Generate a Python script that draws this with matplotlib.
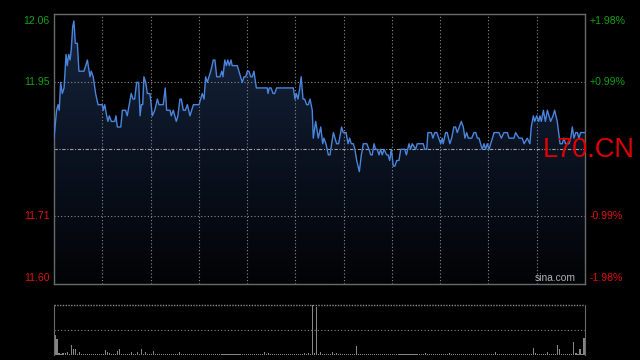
import matplotlib
matplotlib.use("Agg")
import matplotlib.pyplot as plt
import numpy as np
from matplotlib.colors import LinearSegmentedColormap

plt.rcParams['font.family'] = ['Liberation Sans', 'DejaVu Sans']

# ---- data ----
prev_close = 11.83
minutes = [0, 1.3, 2.0, 2.6, 3.3, 4.1, 5.0, 6.0, 6.6, 7.3, 8.0, 8.6, 9.3, 9.9, 10.6, 11.6,
           12.4, 14.9, 16.6, 17.9, 18.5, 19.5, 20.7, 21.9, 24.0, 24.5, 25.2, 26.2, 26.8,
           27.5, 28.5, 30.2, 30.8, 31.5, 33.2, 34.0, 35.6, 36.4, 38.4, 39.3, 40.1, 41.1,
           42.1, 42.8, 43.4, 44.1, 44.7, 45.6, 46.4, 47.7, 48.9, 50.1, 51.4, 52.2, 54.3,
           55.3, 56.0, 57.7, 58.3, 59.3, 60.8, 61.6, 62.6, 63.3, 64.3, 65.3, 66.3, 67.6,
           69.3, 72.1, 72.9, 73.7, 74.6, 75.4, 76.2, 77.9, 79.2, 80.0, 80.9, 82.5, 83.4,
           84.0, 84.9, 85.7, 86.4, 87.2, 88.0, 88.6, 91.1, 93.6, 94.5, 95.3, 96.1, 96.9,
           97.8, 98.6, 99.4, 100.6, 106.0, 106.4, 107.0, 107.9, 108.9, 109.7, 110.7, 119.0,
           119.8, 120.5, 121.3, 122.2, 122.9, 123.8, 124.6, 125.6, 126.4, 127.3, 128.4,
           128.9, 130.1, 131.4, 132.6, 133.6, 134.2, 135.2, 136.4, 137.2, 138.9, 140.5,
           141.5, 143.0, 143.8, 145.2, 146.2, 147.0, 147.8, 148.8, 149.6, 150.5, 151.8,
           152.8, 153.8, 155.5, 156.6, 157.5, 158.2, 159.1, 159.9, 160.7, 161.6, 162.4,
           163.2, 164.1, 165.4, 166.1, 166.9, 167.7, 168.7, 169.5, 170.4, 171.5, 172.4,
           174.4, 175.2, 176.5, 177.3, 178.1, 179.8, 180.6, 183.6, 184.3, 185.3, 185.9,
           187.6, 188.4, 189.3, 190.3, 191.3, 192.3, 193.0, 193.5, 194.7, 195.5, 196.8,
           197.7, 198.8, 199.7, 200.5, 201.5, 202.5, 203.5, 204.3, 205.2, 206.0, 207.7,
           208.8, 209.7, 210.5, 211.3, 212.1, 212.9, 213.8, 214.6, 215.4, 216.3, 217.1,
           218.8, 221.2, 222.4, 223.7, 225.4, 226.2, 228.7, 229.5, 231.2, 232.8, 233.7,
           235.3, 236.6, 237.3, 238.3, 239.0, 240.0, 241.0, 241.6, 242.3, 243.3, 244.3,
           245.3, 246.1, 246.9, 248.1, 248.9, 250.2, 251.6, 252.7, 253.5, 254.3, 256.0,
           256.9, 257.7, 258.5, 259.4, 260.2, 261.0, 261.8, 264.0]
prices = [11.85, 11.90, 11.91, 11.90, 11.95, 11.93, 11.94, 12.00, 11.98, 12.00, 11.99, 12.01,
          12.05, 12.06, 12.02, 12.02, 11.97, 11.97, 11.99, 11.96, 11.97, 11.96, 11.93, 11.91,
          11.91, 11.90, 11.91, 11.89, 11.88, 11.89, 11.88, 11.88, 11.89, 11.87, 11.87, 11.90,
          11.90, 11.89, 11.93, 11.92, 11.92, 11.95, 11.95, 11.89, 11.91, 11.91, 11.96, 11.95,
          11.93, 11.93, 11.89, 11.90, 11.92, 11.91, 11.91, 11.94, 11.90, 11.90, 11.89, 11.90,
          11.88, 11.89, 11.92, 11.92, 11.90, 11.90, 11.91, 11.89, 11.91, 11.91, 11.92, 11.93,
          11.92, 11.96, 11.95, 11.97, 11.99, 11.99, 11.96, 11.96, 11.97, 11.96, 11.99, 11.98,
          11.99, 11.98, 11.99, 11.98, 11.98, 11.95, 11.96, 11.96, 11.97, 11.97, 11.96, 11.96,
          11.97, 11.94, 11.94, 11.93, 11.94, 11.94, 11.93, 11.93, 11.94, 11.94, 11.92, 11.93,
          11.92, 11.94, 11.96, 11.92, 11.92, 11.91, 11.91, 11.92, 11.90, 11.85, 11.88, 11.85,
          11.87, 11.84, 11.85, 11.84, 11.82, 11.82, 11.86, 11.84, 11.84, 11.87, 11.86, 11.86,
          11.84, 11.85, 11.84, 11.84, 11.83, 11.81, 11.79, 11.82, 11.84, 11.84, 11.83, 11.82,
          11.82, 11.84, 11.83, 11.83, 11.82, 11.83, 11.82, 11.83, 11.82, 11.82, 11.81, 11.83,
          11.80, 11.80, 11.81, 11.81, 11.83, 11.83, 11.82, 11.84, 11.83, 11.84, 11.83, 11.84,
          11.84, 11.83, 11.83, 11.86, 11.86, 11.85, 11.86, 11.86, 11.85, 11.84, 11.85, 11.84,
          11.86, 11.86, 11.84, 11.85, 11.87, 11.87, 11.86, 11.87, 11.88, 11.87, 11.85, 11.86,
          11.85, 11.85, 11.86, 11.86, 11.85, 11.85, 11.84, 11.83, 11.84, 11.83, 11.84, 11.83,
          11.84, 11.86, 11.86, 11.85, 11.86, 11.86, 11.85, 11.85, 11.86, 11.85, 11.85, 11.84,
          11.85, 11.84, 11.87, 11.89, 11.88, 11.89, 11.88, 11.89, 11.88, 11.90, 11.88, 11.90,
          11.89, 11.88, 11.89, 11.90, 11.88, 11.84, 11.84, 11.85, 11.84, 11.84, 11.85, 11.87,
          11.85, 11.86, 11.86, 11.85, 11.86, 11.86]

volumes = [400, 320, 46, 24, 46, 46, 66, 28, 200, 114, 114, 30,
           66, 24, 30, 20, 26, 22, 30, 24, 20, 28, 22, 26,
           30, 100, 66, 46, 24, 30, 26, 80, 120, 30, 22, 26,
           24, 28, 66, 22, 30, 66, 24, 114, 28, 66, 24, 30,
           22, 80, 26, 24, 30, 22, 28, 24, 26, 20, 30, 24,
           22, 26, 56, 24, 20, 28, 24, 26, 22, 30, 24, 20,
           26, 22, 24, 28, 20, 26, 24, 22, 30, 24, 26, 20,
           24, 28, 22, 26, 24, 20, 30, 22, 26, 24, 28, 22,
           24, 26, 20, 28, 24, 22, 30, 26, 56, 24, 40, 22,
           26, 24, 20, 28, 22, 26, 24, 30, 22, 24, 26, 20,
           28, 24, 30, 22, 40, 26, 46, 30, 994, 40, 966, 24,
           60, 30, 26, 22, 24, 28, 56, 24, 40, 26, 22, 30,
           24, 26, 22, 28, 24, 30, 180, 26, 22, 24, 28, 22,
           26, 24, 20, 28, 22, 26, 24, 20, 30, 24, 26, 22,
           28, 24, 26, 22, 30, 24, 20, 26, 28, 22, 24, 26,
           22, 30, 24, 26, 40, 22, 28, 24, 26, 22, 30, 24,
           26, 22, 28, 24, 40, 26, 22, 30, 24, 26, 22, 28,
           24, 26, 22, 30, 24, 26, 20, 28, 22, 26, 24, 30,
           22, 26, 24, 66, 28, 22, 26, 24, 30, 22, 26, 24,
           28, 22, 26, 30, 24, 22, 28, 26, 24, 22, 134, 46,
           26, 24, 28, 22, 30, 56, 24, 26, 22, 28, 200, 114,
           26, 30, 24, 28, 22, 30, 260, 40, 26, 120, 30, 346]

left_labels = ["12.06", "11.95", "11.71", "11.60"]
left_values = [12.06, 11.95, 11.71, 11.60]
right_labels = ["+1.98%", "+0.99%", "-0.99%", "-1.98%"]
symbol = "L70.CN"
watermark = "sina.com"

# ---- styling ----
GREEN = '#12a012'
RED = '#e01010'
GRID = '#8a8a8a'
SPINE = '#6a6a6a'
LINE = '#4a85dd'
session_len = 264
ylo, yhi = 11.5886, 12.0725

fig = plt.figure(figsize=(6.4, 3.6), dpi=100, facecolor='black')
ax = fig.add_axes([54/640, 1-284/360, 531/640, 270/360])
ax.set_facecolor('black')
ax.set_xlim(0, session_len)
ax.set_ylim(ylo, yhi)

# gradient fill under line
poly = ax.fill_between(minutes, prices, ylo, facecolor='none', edgecolor='none')
cmap = LinearSegmentedColormap.from_list('g', ['#020305', '#0b1322', '#17263f'])
grad = np.linspace(0, 1, 256).reshape(-1, 1)
im = ax.imshow(grad, extent=[0, session_len, ylo, yhi], origin='lower',
               aspect='auto', cmap=cmap, zorder=1)
path = poly.get_paths()[0]
im.set_clip_path(path, transform=ax.transData)

# grid
for k in range(1, 11):
    ax.axvline(24*k, color=GRID, lw=0.8, ls=(0, (1, 2)), zorder=2)
for v in [11.95, 11.71]:
    ax.axhline(v, color=GRID, lw=0.8, ls=(0, (1, 2)), zorder=2)
ax.axhline(prev_close, color='#a0a0a0', lw=0.8, ls=(0, (3, 1.5, 1, 1.5)), zorder=2)

ax.plot(minutes, prices, color=LINE, lw=1.0, zorder=3)

for s in ax.spines.values():
    s.set_color(SPINE)
    s.set_linewidth(1.0)
ax.set_xticks([])
ax.set_yticks([])

colors = [GREEN, GREEN, RED, RED]
for lab, val, rl, c in zip(left_labels, left_values, right_labels, colors):
    ax.text(-0.008, val, lab, transform=ax.get_yaxis_transform(), ha='right',
            va='center', color=c, fontsize=7.6)
    ax.text(1.009, val, rl, transform=ax.get_yaxis_transform(), ha='left',
            va='center', color=c, fontsize=7.6)

fig.text(543/640, 1-149.5/360, symbol, color='#e00000', fontsize=19.5,
         ha='left', va='center')
ax.text(0.982, 11.60, watermark, transform=ax.get_yaxis_transform(), ha='right',
        va='center', color='#b0b0b0', fontsize=7.4, zorder=4)

# volume panel
vax = fig.add_axes([54/640, 1-355/360, 531/640, 50/360])
vax.set_facecolor('black')
vax.set_xlim(0, session_len)
vax.set_ylim(0, 1000)
vax.bar(np.arange(len(volumes)) + 0.5, volumes, width=0.55, color='#858585', zorder=2)
vax.axhline(500, color=GRID, lw=0.8, ls=(0, (1, 2)), zorder=1)
vax.axhline(1000, color=GRID, lw=1.0, ls=(0, (1, 1)), zorder=1, clip_on=False)
vax.spines['top'].set_visible(False)
vax.spines['bottom'].set_visible(False)
for side in ['left', 'right']:
    vax.spines[side].set_color(SPINE)
vax.set_xticks([])
vax.set_yticks([])

fig.savefig('out.png', dpi=100, facecolor='black')
